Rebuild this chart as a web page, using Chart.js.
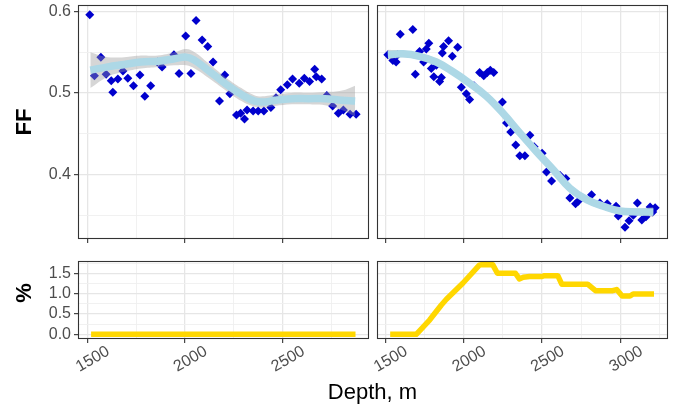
<!DOCTYPE html>
<html><head><meta charset="utf-8">
<script src="https://cdn.jsdelivr.net/npm/chart.js@4"></script>
<style>
html,body{margin:0;padding:0;background:#fff;}
#wrap{position:relative;width:675px;height:408px;overflow:hidden;font-family:"Liberation Sans",Arial,Helvetica,sans-serif;}
canvas{position:absolute;}
.t{position:absolute;color:#000;white-space:nowrap;line-height:22px;font-size:22px;}
</style></head><body>
<div id="wrap">
<canvas id="tl" width="372" height="245" style="left:0;top:0"></canvas>
<canvas id="tr" width="300" height="245" style="left:371px;top:0"></canvas>
<canvas id="bl" width="372" height="130" style="left:0;top:250px"></canvas>
<canvas id="br" width="300" height="130" style="left:371px;top:250px"></canvas>
<div class="t" style="left:24px;top:121.5px;transform:translate(-50%,-50%) rotate(-90deg);font-weight:bold;">FF</div>
<div class="t" style="left:24px;top:293px;transform:translate(-50%,-50%) rotate(-90deg);font-weight:bold;">%</div>
<div class="t" style="left:372.5px;top:380.5px;transform:translateX(-50%);">Depth, m</div>
</div>
<script>
// ---------- data ----------
const depthL = [1513,1537,1570,1597,1623,1631,1657,1683,1708,1737,1770,1795,1825,1859,1883,1944,1970,2004,2031,2057,2088,2117,2144,2177,2204,2230,2264,2285,2305,2318,2349,2375,2404,2440,2466,2490,2524,2551,2585,2611,2638,2664,2672,2700,2726,2756,2785,2811,2845,2876];
const ffL    = [0.596,0.521,0.544,0.523,0.515,0.501,0.517,0.527,0.518,0.509,0.522,0.496,0.509,0.538,0.532,0.547,0.524,0.570,0.524,0.589,0.565,0.557,0.538,0.490,0.522,0.499,0.473,0.475,0.468,0.479,0.478,0.478,0.478,0.482,0.494,0.504,0.510,0.517,0.512,0.518,0.514,0.529,0.520,0.517,0.497,0.484,0.475,0.479,0.474,0.474];

const depthR = [1517,1549,1570,1580,1596,1676,1692,1719,1745,1762,1778,1794,1810,1826,1847,1858,1864,1872,1904,1928,1962,1985,2017,2038,2066,2102,2128,2151,2170,2192,2247,2273,2300,2332,2358,2390,2422,2449,2500,2528,2560,2613,2651,2677,2713,2730,2815,2868,2915,2971,2985,3028,3054,3081,3107,3135,3162,3188,3205,3220];
const ffR    = [0.547,0.540,0.538,0.547,0.572,0.578,0.523,0.551,0.538,0.554,0.561,0.530,0.520,0.534,0.514,0.519,0.549,0.557,0.564,0.545,0.556,0.507,0.499,0.492,0.509,0.525,0.521,0.525,0.528,0.525,0.489,0.463,0.452,0.436,0.423,0.423,0.448,0.434,0.426,0.403,0.392,0.399,0.395,0.371,0.364,0.367,0.375,0.365,0.364,0.361,0.349,0.335,0.343,0.350,0.365,0.344,0.348,0.360,0.354,0.359];

const smoothDepthL = [1516,1605,1690,1776,1861,1947,2007,2050,2118,2204,2289,2358,2409,2460,2546,2632,2717,2803,2871];
const smoothL      = [0.528,0.532,0.535,0.538,0.539,0.542,0.544,0.540,0.528,0.512,0.498,0.490,0.489,0.491,0.493,0.493,0.493,0.491,0.490];
const seL          = [0.022,0.012,0.009,0.008,0.007,0.008,0.010,0.010,0.009,0.008,0.008,0.007,0.007,0.007,0.007,0.007,0.008,0.012,0.019];

const smoothDepthR = [1517,1612,1719,1826,1932,2038,2145,2251,2358,2464,2570,2677,2784,2890,2996,3103,3209];
const smoothR      = [0.547,0.548,0.545,0.538,0.526,0.512,0.496,0.475,0.451,0.428,0.406,0.383,0.369,0.361,0.355,0.354,0.354];
const seR          = [0.006,0.004,0.004,0.004,0.004,0.004,0.004,0.004,0.004,0.004,0.004,0.004,0.004,0.004,0.004,0.004,0.006];

const pctDepthL = [1520,2873];
const pctL      = [0,0];
const pctDepthR = [1532,1698,1783,1858,1890,1996,2100,2113,2185,2215,2330,2355,2380,2420,2500,2515,2600,2625,2790,2815,2840,2950,2975,3010,3060,3080,3213];
const pctR      = [0,0,0.35,0.72,0.86,1.26,1.70,1.71,1.71,1.50,1.50,1.36,1.40,1.42,1.42,1.44,1.44,1.23,1.23,1.15,1.07,1.07,1.10,0.94,0.94,0.99,0.99];

// ticks
const xTicksL = [1500,1750,2000,2250,2500,2750];
const xTicksR = [1500,1750,2000,2250,2500,2750,3000,3250];
const xMajor  = [1500,2000,2500,3000];
const yTicksTop = [0.35,0.4,0.45,0.5,0.55,0.6];
const yMajorTop = [0.4,0.5,0.6];
const yTicksBot = [0,0.25,0.5,0.75,1,1.25,1.5,1.75];
const yMajorBot = [0,0.5,1,1.5];

// axis limits
const xLimL = [1453,2942];
const xLimR = [1448,3302];
const yLimTop = [0.3207,0.608];
const yLimBot = [-0.115,1.80];

// ---------- helpers ----------
const FONT = '"Liberation Sans", Arial, Helvetica, sans-serif';
const TICK_COL = '#4D4D4D';
const isIn = (list, v) => list.some(m => Math.abs(m - v) < 1e-9);
const pts = (xs, ys) => xs.map((x, i) => ({x, y: ys[i]}));

function gridOpts(majors, drawTicks){
  return {
    color: c => (c.tick && isIn(majors, c.tick.value)) ? '#E6E6E6' : '#EFEFEF',
    lineWidth: c => (c.tick && isIn(majors, c.tick.value)) ? 1.3 : 0.9,
    tickColor: c => (c.tick && isIn(majors, c.tick.value)) ? '#333333' : 'rgba(0,0,0,0)',
    tickLength: 4, tickWidth: 1.1,
    drawTicks: drawTicks
  };
}

function xScale(lim, tickVals, showLabels, h){
  return {
    type: 'linear', position: 'bottom', min: lim[0], max: lim[1],
    afterBuildTicks: s => { s.ticks = tickVals.map(v => ({value: v})); },
    grid: gridOpts(xMajor, true),
    border: {display: false},
    ticks: {
      display: showLabels, autoSkip: false, maxRotation: 30, minRotation: 30,
      padding: -1, labelOffset: 21, color: TICK_COL, font: {family: FONT, size: 16},
      callback: v => isIn(xMajor, v) ? String(v) : ''
    },
    afterFit: s => { s.height = h; s.paddingLeft = 0; s.paddingRight = 0; }
  };
}

function yScale(lim, tickVals, majors, showLabels, w){
  return {
    type: 'linear', position: 'left', min: lim[0], max: lim[1],
    afterBuildTicks: s => { s.ticks = tickVals.map(v => ({value: v})); },
    grid: gridOpts(majors, showLabels),
    border: {display: false},
    ticks: {
      display: showLabels, autoSkip: false, padding: 3, color: TICK_COL,
      font: {family: FONT, size: 16},
      callback: v => isIn(majors, v) ? v.toFixed(1) : ''
    },
    afterFit: s => { s.width = w; s.paddingTop = 0; s.paddingBottom = 0; }
  };
}

const frame = {
  id: 'frame',
  afterDatasetsDraw(chart){
    const {ctx, chartArea: a} = chart;
    ctx.save();
    ctx.strokeStyle = '#333333';
    ctx.lineWidth = 1.1;
    ctx.strokeRect(Math.round(a.left) + 0.5, Math.round(a.top) + 0.5,
                   Math.round(a.right - a.left) - 1, Math.round(a.bottom - a.top) - 1);
    ctx.restore();
  }
};

function ffDatasets(dx, dy, sx, sy, se){
  return [
    {data: pts(dx, dy), pointStyle: 'rectRot', pointRadius: 4.5, backgroundColor: '#0000CD',
     borderWidth: 0, order: 3},
    {data: pts(sx, sy.map((v, i) => v + se[i])), showLine: true, pointRadius: 0, borderWidth: 0,
     tension: 0.4, fill: '+1', backgroundColor: 'rgba(153,153,153,0.4)', order: 2},
    {data: pts(sx, sy.map((v, i) => v - se[i])), showLine: true, pointRadius: 0, borderWidth: 0,
     tension: 0.4, fill: false, order: 2},
    {data: pts(sx, sy), showLine: true, pointRadius: 0, borderWidth: 7.5, borderColor: '#ADD8E6',
     tension: 0.4, fill: false, borderCapStyle: 'butt', order: 1}
  ];
}

function pctDatasets(dx, dy){
  return [{data: pts(dx, dy), showLine: true, pointRadius: 0, borderWidth: 5.5,
           borderColor: '#FFD700', tension: 0, fill: false, borderCapStyle: 'butt',
           borderJoinStyle: 'round'}];
}

function make(id, datasets, scales, pad){
  new Chart(document.getElementById(id), {
    type: 'scatter',
    data: {datasets},
    options: {
      responsive: false, animation: false, devicePixelRatio: 1,
      layout: {autoPadding: false, padding: pad},
      plugins: {legend: {display: false}, tooltip: {enabled: false}},
      scales
    },
    plugins: [frame]
  });
}

make('tl', ffDatasets(depthL, ffL, smoothDepthL, smoothL, seL),
     {x: xScale(xLimL, xTicksL, false, 6), y: yScale(yLimTop, yTicksTop, yMajorTop, true, 78)},
     {top: 5, right: 3, bottom: 0, left: 0});
make('tr', ffDatasets(depthR, ffR, smoothDepthR, smoothR, seR),
     {x: xScale(xLimR, xTicksR, false, 6), y: yScale(yLimTop, yTicksTop, yMajorTop, false, 6)},
     {top: 5, right: 3, bottom: 0, left: 0});
make('bl', pctDatasets(pctDepthL, pctL),
     {x: xScale(xLimL, xTicksL, true, 41), y: yScale(yLimBot, yTicksBot, yMajorBot, true, 78)},
     {top: 11, right: 3, bottom: 0, left: 0});
make('br', pctDatasets(pctDepthR, pctR),
     {x: xScale(xLimR, xTicksR, true, 41), y: yScale(yLimBot, yTicksBot, yMajorBot, false, 6)},
     {top: 11, right: 3, bottom: 0, left: 0});
</script>
</body></html>
